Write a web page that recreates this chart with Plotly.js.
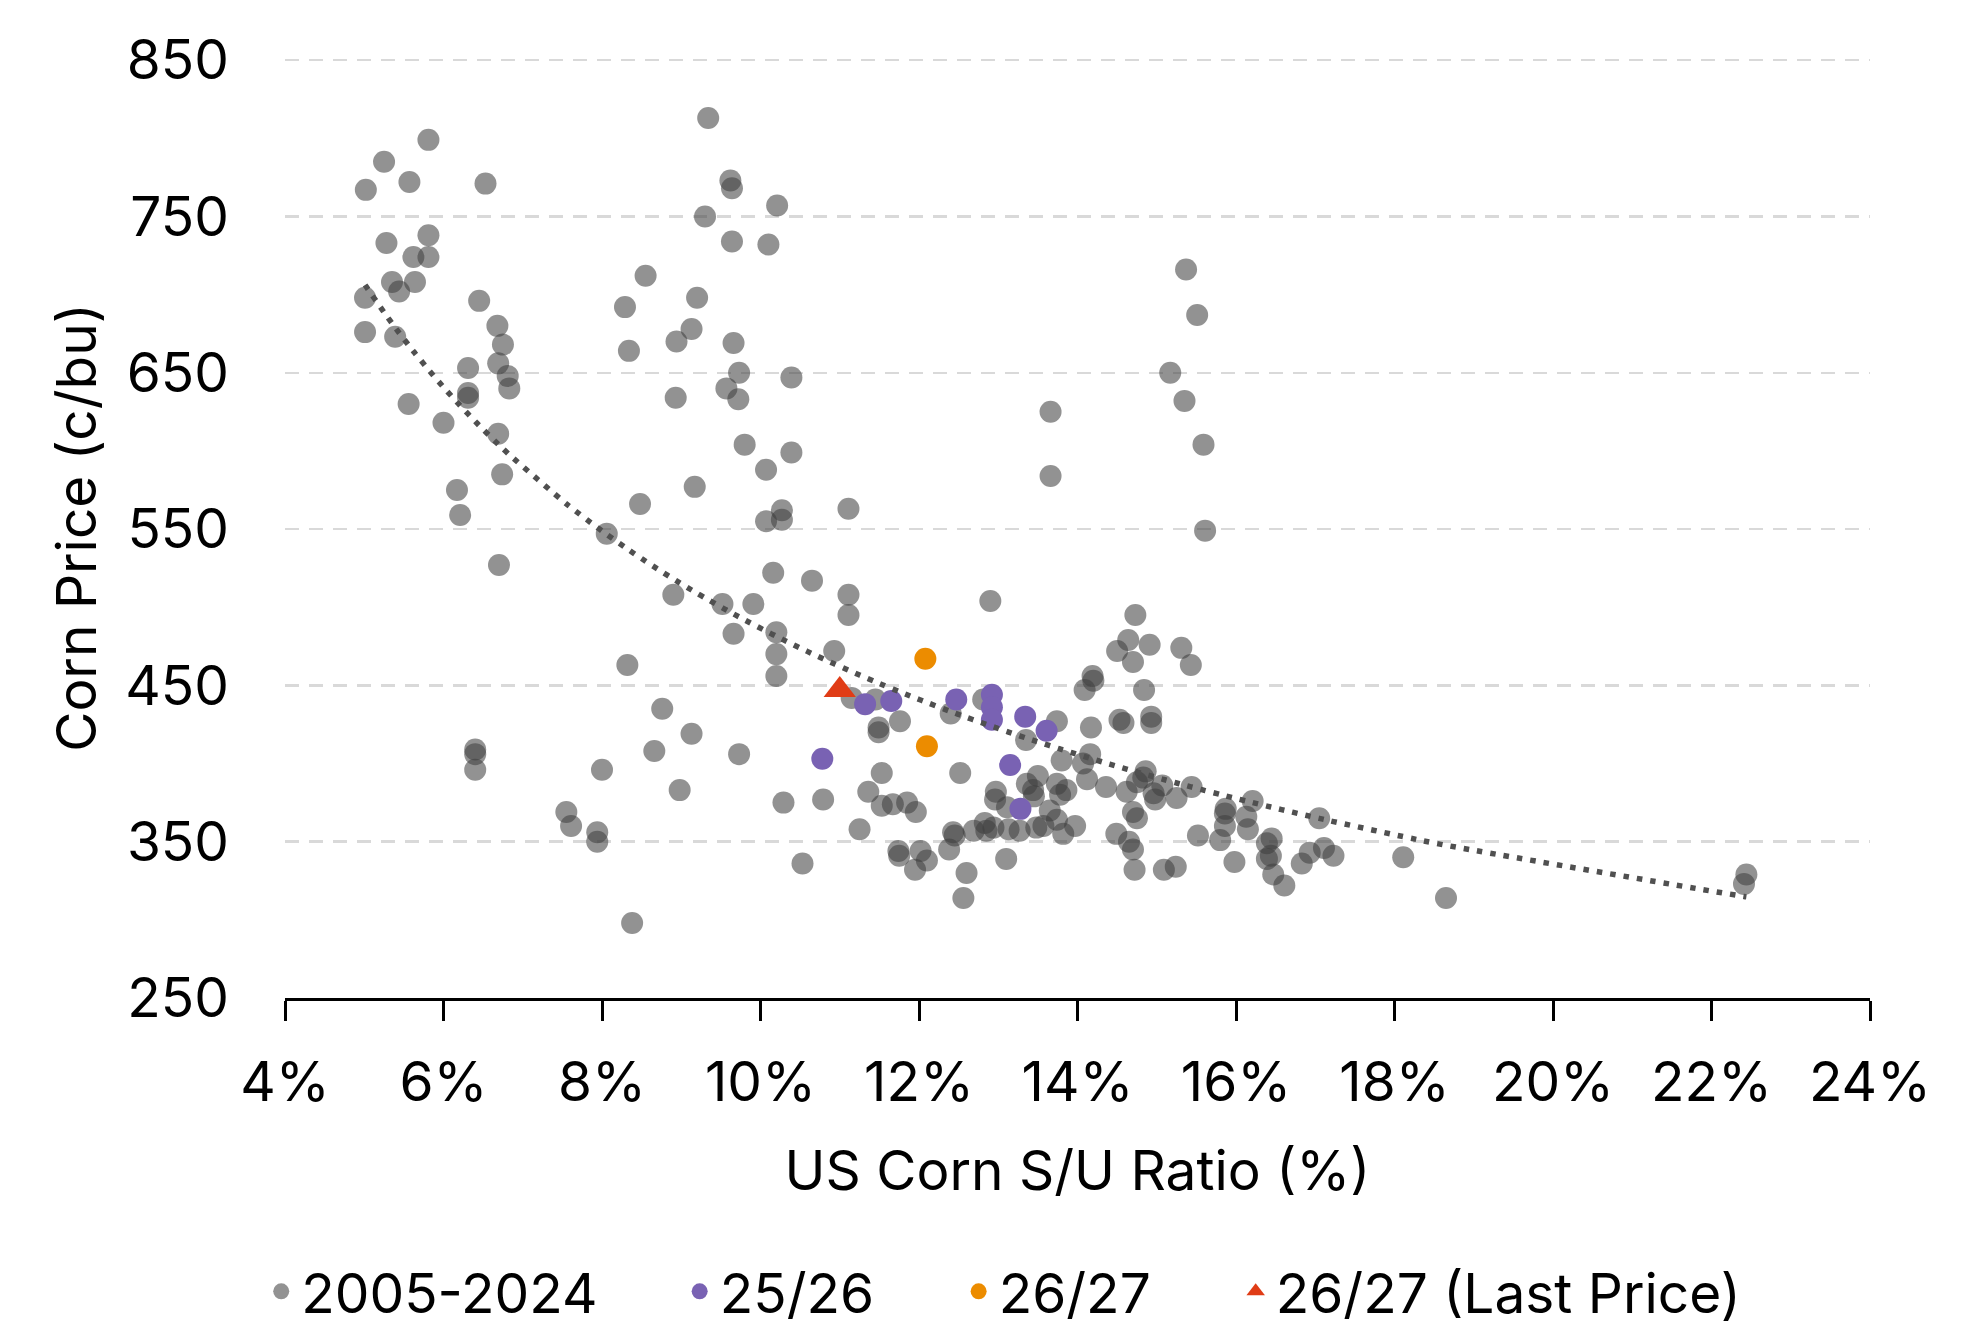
<!DOCTYPE html>
<html>
<head>
<meta charset="utf-8">
<script src="https://cdn.plot.ly/plotly-3.0.1.min.js"></script>
<style>
  html, body { margin: 0; padding: 0; background: #fff; }
  #chart { width: 1974px; height: 1332px; }
</style>
</head>
<body>
<div id="chart"></div>
<script>
// 2005-2024 monthly estimates: S/U ratio (%) and corn price (c/bu)
const histSU = [
  5.02, 5.25, 5.57, 5.81, 6.53, 9.34, 9.62, 9.64, 10.21, 9.30,
  9.64, 10.10, 5.28, 5.81, 5.62, 5.81, 5.35, 5.64, 5.44, 5.01,
  6.45, 5.01, 5.39, 8.55, 8.29, 9.20, 8.34, 8.94, 9.13, 9.66,
  6.68, 6.75, 6.31, 6.69, 6.81, 6.83, 6.31, 6.31, 5.56, 6.00,
  9.73, 10.39, 8.93, 9.57, 9.72, 6.69, 6.74, 6.17, 6.21, 9.80,
  10.39, 10.07, 9.17, 8.48, 8.06, 10.27, 10.07, 10.27, 11.11, 6.70,
  15.37, 15.51, 15.17, 15.35, 15.59, 13.66, 13.66, 15.61,
  10.16, 10.65, 11.11, 11.11, 8.90, 9.52, 9.91, 9.66, 10.20, 10.20,
  10.20, 10.93, 8.32, 11.15, 8.76, 9.13, 8.66, 9.73, 6.40, 6.40,
  6.40, 8.00, 8.98, 10.29, 10.79, 7.55, 7.61, 7.94, 7.94, 10.53,
  8.38, 11.25,
  12.90, 11.45, 12.81, 12.40, 11.49, 11.49, 11.76, 11.53, 11.36, 11.53,
  11.67, 11.85, 11.96, 12.52, 11.74, 11.75, 12.02, 12.10, 11.95, 12.38,
  12.43, 12.45, 12.60, 12.56, 12.69, 12.83, 12.85, 12.94, 12.97, 12.96,
  13.11, 13.10, 13.13, 13.27, 13.35, 13.74, 13.50, 13.36, 13.44, 13.45,
  13.74, 13.78, 13.86, 13.65, 13.74, 13.48, 13.57, 13.82, 13.97, 13.80,
  14.07, 14.16, 14.17, 14.19, 14.20, 14.09, 14.12, 14.36, 14.62, 14.73,
  14.64, 14.50, 14.91, 14.70, 15.31, 15.43, 14.84, 14.53, 14.58, 14.93,
  14.93, 14.86, 14.75, 14.83, 14.96, 15.07, 14.98, 15.25, 15.44, 14.70,
  14.75, 14.49, 14.65, 14.70, 14.72, 15.09, 15.24, 15.52, 15.86, 15.87,
  15.86, 15.80, 16.21, 16.13, 16.15, 15.98, 16.45, 16.39, 16.44, 16.39,
  16.47, 16.61, 16.83, 16.93, 17.05, 17.11, 17.23,
  18.11, 18.65, 22.44, 22.41
];
const histPrice = [
  767, 785, 772, 799, 771, 813, 773, 768, 757, 750,
  734, 732, 733, 738, 724, 724, 708, 708, 702, 698,
  696, 676, 673, 712, 692, 698, 664, 670, 678, 669,
  680, 668, 653, 656, 648, 640, 637, 634, 630, 618,
  650, 647, 634, 640, 633, 611, 585, 575, 559, 604,
  599, 588, 577, 566, 547, 562, 555, 556, 563, 527,
  716, 687, 650, 632, 604, 625, 584, 549,
  522, 517, 508, 495, 508, 502, 502, 483, 484, 470,
  456, 472, 463, 442, 435, 419, 408, 406, 409, 406,
  396, 396, 383, 375, 377, 369, 360, 356, 350, 336,
  298, 358,
  504, 441, 441, 432, 423, 420, 427, 394, 382, 373,
  374, 375, 369, 394, 344, 341, 344, 338, 332, 345,
  356, 354, 330, 314, 357, 362, 357, 359, 382, 377,
  372, 339, 358, 357, 415, 427, 392, 387, 383, 379,
  387, 380, 383, 370, 364, 359, 360, 355, 360, 402,
  400, 406, 423, 456, 453, 447, 390, 385, 382, 495,
  479, 472, 476, 465, 474, 463, 447, 428, 426, 430,
  426, 395, 388, 391, 381, 386, 377, 378, 385, 369,
  365, 355, 350, 345, 332, 332, 334, 354, 368, 371,
  360, 351, 376, 366, 358, 337, 352, 349, 341, 339,
  329, 322, 336, 343, 365, 346, 341,
  340, 314, 329, 323
];

// 25/26 estimates
const su2526 = [11.32, 11.65, 12.47, 12.92, 12.92, 12.92, 13.34, 13.61, 13.15, 13.28, 10.78];
const price2526 = [438, 440, 441, 444, 436, 428, 430, 421, 399, 371, 403];

// 26/27 estimates
const su2627 = [12.08, 12.10];
const price2627 = [467, 411];

// 26/27 at last price
const suLast = [11.00];
const priceLast = [447];

const FONT = 'Inter, "Open Sans", "Noto Sans", sans-serif';
const FS = 55;

/** Power trendline (Excel style) fitted on log-log least squares. */
function powerFit(xs, ys) {
  const n = xs.length;
  let sx = 0, sy = 0, sxx = 0, sxy = 0;
  for (let i = 0; i < n; i++) {
    const lx = Math.log(xs[i]);
    const ly = Math.log(ys[i]);
    sx += lx; sy += ly; sxx += lx * lx; sxy += lx * ly;
  }
  const b = (n * sxy - sx * sy) / (n * sxx - sx * sx);
  const a = Math.exp((sy - b * sx) / n);
  return { a, b };
}

const fit = powerFit(histSU, histPrice);
const trendX = [...new Set(histSU)].sort((p, q) => p - q);
const trendY = trendX.map(x => fit.a * Math.pow(x, fit.b));

const traces = [
  {
    type: 'scatter', mode: 'markers', name: '2005-2024', legend: 'legend',
    x: histSU, y: histPrice,
    marker: { color: 'rgba(64,64,64,0.57)', size: 22, line: { width: 0 } },
  },
  {
    type: 'scatter', mode: 'markers', name: '25/26', legend: 'legend2',
    x: su2526, y: price2526,
    marker: { color: '#7962b3', size: 22, line: { width: 0 } },
  },
  {
    type: 'scatter', mode: 'markers', name: '26/27', legend: 'legend3',
    x: su2627, y: price2627,
    marker: { color: '#ec8c00', size: 22, line: { width: 0 } },
  },
  {
    type: 'scatter', mode: 'markers', name: '26/27 (Last Price)', legend: 'legend4',
    x: suLast, y: priceLast,
    marker: { color: '#e03c16', size: 28, symbol: 'triangle-up', line: { width: 0 } },
  },
  {
    type: 'scatter', mode: 'lines', name: 'Trend', showlegend: false,
    x: trendX, y: trendY,
    line: { color: '#505050', width: 5.5, dash: '5.5px,8px', shape: 'spline' },
    hoverinfo: 'skip',
  },
];

// one single-entry legend per series so the bottom row keeps its spacing
const legendY = -0.312;
const legendBase = {
  orientation: 'h', xanchor: 'left', y: legendY, yanchor: 'middle',
  font: { size: FS, color: '#000' }, bgcolor: 'rgba(0,0,0,0)',
  itemclick: false, itemdoubleclick: false,
};

const layout = {
  width: 1974,
  height: 1332,
  paper_bgcolor: '#fff',
  plot_bgcolor: '#fff',
  font: { family: FONT, color: '#000', size: FS },
  margin: { l: 285, r: 104, t: 57, b: 334, autoexpand: false },
  showlegend: true,
  xaxis: {
    range: [4, 24], tick0: 4, dtick: 2, ticksuffix: '%',
    showgrid: false, zeroline: false,
    showline: true, linecolor: '#000', linewidth: 3,
    ticks: 'outside', ticklen: 20, tickwidth: 3, tickcolor: '#000',
    tickfont: { size: FS, color: '#000' },
    ticklabelstandoff: 14,
    title: { text: 'US Corn S/U Ratio (%)', font: { size: FS, color: '#000' }, standoff: 39 },
    automargin: false,
  },
  yaxis: {
    range: [250, 852], tick0: 250, dtick: 100,
    showgrid: true, gridcolor: '#d9d9d9', gridwidth: 2.5, griddash: '14px,10px',
    zeroline: false, showline: false, ticks: '',
    tickfont: { size: FS, color: '#000' },
    ticklabelstandoff: 55,
    title: { text: 'Corn Price (c/bu)', font: { size: FS, color: '#000' }, standoff: 11 },
    automargin: false,
  },
  legend: Object.assign({}, legendBase, { x: -0.0150 }),
  legend2: Object.assign({}, legendBase, { x: 0.2490 }),
  legend3: Object.assign({}, legendBase, { x: 0.4250 }),
  legend4: Object.assign({}, legendBase, { x: 0.5998 }),
};

Plotly.newPlot('chart', traces, layout, { displayModeBar: false, staticPlot: true });
</script>
</body>
</html>
